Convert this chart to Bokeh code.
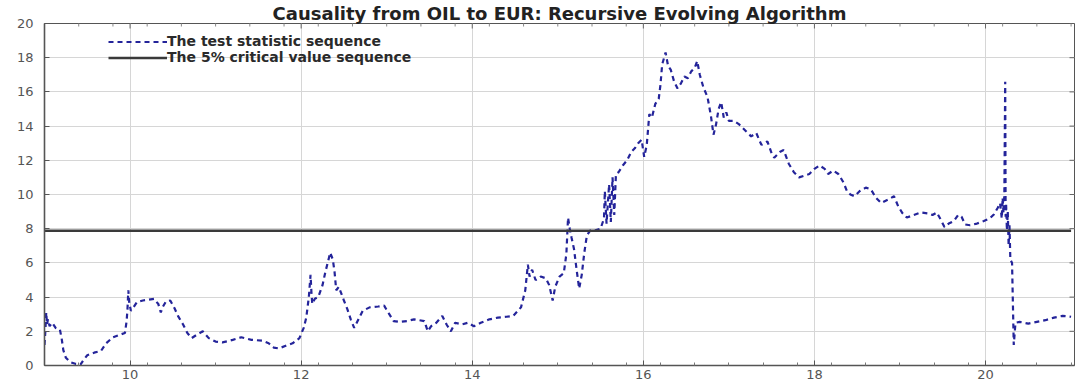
import math

from bokeh.plotting import figure
from bokeh.models import Range1d, Legend, LegendItem, FixedTicker
from bokeh.embed import file_html
from bokeh.resources import INLINE

# Sample dates (years after 2000) and the recursive-evolving test statistic
years = [
    9.00, 9.01, 9.02, 9.03, 9.04, 9.06, 9.09, 9.13, 9.18, 9.20, 9.22, 9.25,
    9.30, 9.36, 9.42, 9.46, 9.50, 9.58, 9.66, 9.72, 9.80, 9.88, 9.94, 9.96,
    9.97, 9.98, 9.99, 10.01, 10.04, 10.08, 10.15, 10.22, 10.28, 10.33, 10.36,
    10.38, 10.42, 10.47, 10.52, 10.56, 10.62, 10.67, 10.72, 10.78, 10.85,
    10.92, 11.00, 11.08, 11.20, 11.30, 11.42, 11.55, 11.62, 11.68, 11.74,
    11.82, 11.90, 11.98, 12.03, 12.06, 12.09, 12.11, 12.12, 12.13, 12.16,
    12.20, 12.25, 12.28, 12.31, 12.34, 12.37, 12.39, 12.41, 12.44, 12.47,
    12.50, 12.54, 12.58, 12.62, 12.66, 12.72, 12.80, 12.90, 12.97, 13.03,
    13.08, 13.15, 13.24, 13.32, 13.38, 13.44, 13.48, 13.52, 13.58, 13.65,
    13.70, 13.75, 13.80, 13.88, 13.95, 14.02, 14.10, 14.20, 14.30, 14.40,
    14.48, 14.57, 14.62, 14.65, 14.67, 14.70, 14.74, 14.80, 14.86, 14.90,
    14.94, 14.97, 15.02, 15.07, 15.10, 15.12, 15.14, 15.16, 15.19, 15.22,
    15.25, 15.28, 15.31, 15.34, 15.38, 15.44, 15.50, 15.54, 15.55, 15.57,
    15.60, 15.62, 15.64, 15.66, 15.68, 15.71, 15.76, 15.81, 15.86, 15.90,
    15.94, 15.98, 16.01, 16.04, 16.07, 16.10, 16.14, 16.18, 16.20, 16.22,
    16.26, 16.29, 16.32, 16.36, 16.40, 16.44, 16.48, 16.52, 16.56, 16.60,
    16.63, 16.66, 16.70, 16.75, 16.79, 16.82, 16.85, 16.88, 16.91, 16.94,
    16.97, 17.00, 17.06, 17.12, 17.20, 17.26, 17.32, 17.38, 17.45, 17.50,
    17.53, 17.60, 17.64, 17.70, 17.76, 17.82, 17.88, 17.94, 18.00, 18.06,
    18.12, 18.16, 18.22, 18.28, 18.34, 18.38, 18.42, 18.47, 18.53, 18.60,
    18.66, 18.72, 18.78, 18.86, 18.93, 18.98, 19.03, 19.08, 19.16, 19.24,
    19.32, 19.38, 19.43, 19.48, 19.52, 19.57, 19.63, 19.68, 19.72, 19.76,
    19.82, 19.90, 19.98, 20.05, 20.10, 20.14, 20.17, 20.19, 20.20, 20.21,
    20.22, 20.23, 20.235, 20.24, 20.25, 20.26, 20.27, 20.28, 20.29, 20.31,
    20.33, 20.35, 20.40, 20.50, 20.60, 20.70, 20.80, 20.90, 21.00,
]
test_stat = [
    1.2, 2.0, 3.1, 2.4, 2.7, 2.3, 2.5, 2.2, 2.1, 1.6, 0.9, 0.45,
    0.2, 0.1, 0.05, 0.35, 0.6, 0.75, 0.85, 1.3, 1.65, 1.8, 1.9, 2.6,
    3.3, 4.4, 3.7, 3.2, 3.4, 3.7, 3.8, 3.85, 3.9, 3.6, 3.1,
    3.4, 3.75, 3.8, 3.35, 2.9, 2.4, 1.9, 1.6, 1.8, 2.0,
    1.6, 1.4, 1.35, 1.5, 1.65, 1.5, 1.45, 1.3, 1.05, 1.0,
    1.15, 1.3, 1.6, 2.2, 2.8, 4.0, 5.3, 4.3, 3.6, 3.9,
    4.0, 4.7, 5.4, 6.0, 6.6, 6.2, 5.5, 4.4, 4.6, 4.2,
    3.8, 3.3, 2.7, 2.2, 2.6, 3.2, 3.4, 3.45, 3.5, 3.0,
    2.6, 2.55, 2.6, 2.7, 2.65, 2.6, 2.0, 2.3, 2.5, 2.9,
    2.4, 2.0, 2.5, 2.4, 2.5, 2.3, 2.5, 2.7, 2.8, 2.85,
    2.9, 3.4, 4.4, 5.9, 5.2, 5.6, 5.0, 5.2, 5.1, 4.7,
    3.8, 4.6, 5.2, 5.4, 6.5, 8.65, 8.0, 7.5, 6.8, 5.6,
    4.5, 5.3, 6.6, 7.6, 7.9, 7.9, 8.0, 8.6, 10.2, 8.3,
    10.6, 8.4, 11.0, 8.8, 11.2, 11.3, 11.7, 12.0, 12.5, 12.7,
    13.0, 13.2, 12.2, 12.9, 14.7, 14.5, 15.3, 15.6, 16.4, 17.6,
    18.3, 17.5, 17.3, 16.6, 16.2, 16.5, 16.9, 16.8, 17.2, 17.4,
    17.8, 17.0, 16.3, 15.7, 14.6, 13.5, 14.1, 15.0, 15.4, 14.5,
    14.8, 14.3, 14.3, 14.1, 13.7, 13.4, 13.6, 12.9, 13.1, 12.4,
    12.15, 12.5, 12.6, 11.8, 11.3, 11.0, 11.1, 11.2, 11.5, 11.7,
    11.5, 11.2, 11.4, 11.2, 10.7, 10.2, 10.0, 9.9, 10.2, 10.4,
    10.3, 9.8, 9.5, 9.7, 9.9, 9.3, 8.9, 8.65, 8.8, 8.95,
    8.9, 8.8, 8.95, 8.5, 8.1, 8.3, 8.45, 8.8, 8.7, 8.25,
    8.2, 8.3, 8.45, 8.6, 8.85, 9.2, 9.5, 8.6, 9.8, 8.9,
    10.0, 16.6, 8.7, 9.5, 7.9, 9.0, 7.0, 8.2, 6.2, 6.0,
    1.2, 2.5, 2.55, 2.45, 2.55, 2.65, 2.8, 2.9, 2.85,
]
# 5% critical value, constant over the sample
critical_value = 7.88
critical_seq = [critical_value] * len(years)

x_start, x_end = 9, 21.04
y_bottom, y_top = 0, 20
x_ticks = [10, 12, 14, 16, 18, 20]
x_minor = [9 + 0.4 * k for k in range(31)]
y_ticks = [0, 2, 4, 6, 8, 10, 12, 14, 16, 18, 20]

TITLE = "Causality from OIL to EUR: Recursive Evolving Algorithm"
LABEL_STAT = "The test statistic sequence"
LABEL_CRIT = "The 5% critical value sequence"

p = figure(width=1075, height=383, output_backend="svg", toolbar_location=None,
           x_range=Range1d(x_start, x_end), y_range=Range1d(y_bottom, y_top),
           title=TITLE,
           min_border_left=44, min_border_right=1, min_border_top=22,
           min_border_bottom=18, background_fill_color="white",
           border_fill_color="white", outline_line_color="#555555",
           outline_line_width=1)

p.title.align = "center"
p.title.text_font = "DejaVu Sans"
p.title.text_font_size = "18px"
p.title.text_font_style = "bold"
p.title.text_color = "#222222"
p.title.standoff = 0
p.title.offset = 0

r_stat = p.line(years, test_stat, line_color="#24249a", line_width=2.2,
                line_dash="5 4")
r_crit = p.line(years, critical_seq, line_color="#3a3a3a", line_width=2.6)

# main axes, ticks pointing inward
for ax in (p.xaxis[0], p.yaxis[0]):
    ax.major_tick_in = 5
    ax.major_tick_out = 0
    ax.minor_tick_in = 3
    ax.minor_tick_out = 0
    ax.axis_line_color = "#555555"
    ax.axis_line_width = 1.6
    ax.major_tick_line_color = "#555555"
    ax.minor_tick_line_color = "#777777"
    ax.major_label_text_font = "DejaVu Sans"
    ax.major_label_text_font_size = "13px"
    ax.major_label_text_color = "#555555"

p.xaxis[0].ticker = FixedTicker(ticks=x_ticks, minor_ticks=x_minor)
p.yaxis[0].ticker = FixedTicker(ticks=y_ticks, minor_ticks=[])
p.xaxis[0].major_label_standoff = 4
p.yaxis[0].major_label_standoff = 11

# tick marks on the top and right edges of the box (half of each marker
# falls outside the frame and is clipped, leaving an inward tick)
p.scatter(x_ticks, [y_top] * len(x_ticks), marker="dash", angle=math.pi / 2,
          size=10, line_color="#666666", line_width=1)
p.scatter(x_minor, [y_top] * len(x_minor), marker="dash", angle=math.pi / 2,
          size=6, line_color="#888888", line_width=1)
p.scatter([x_end] * len(y_ticks), y_ticks, marker="dash", size=10,
          line_color="#666666", line_width=1)

p.xgrid.ticker = FixedTicker(ticks=x_ticks)
p.ygrid.ticker = FixedTicker(ticks=y_ticks)
for g in (p.xgrid[0], p.ygrid[0]):
    g.grid_line_color = "#d6d6d6"
    g.grid_line_width = 1

legend = Legend(items=[LegendItem(label=LABEL_STAT, renderers=[r_stat]),
                       LegendItem(label=LABEL_CRIT, renderers=[r_crit])],
                location=(64, 300), orientation="vertical",
                glyph_width=59, glyph_height=13, label_height=13,
                label_standoff=0, padding=0, margin=0, spacing=0,
                border_line_alpha=0, background_fill_alpha=0,
                label_text_font="DejaVu Sans", label_text_font_size="14px",
                label_text_font_style="bold", label_text_color="#2a2a2a")
p.add_layout(legend, "center")

open("out.html", "w").write(file_html(p, INLINE))
